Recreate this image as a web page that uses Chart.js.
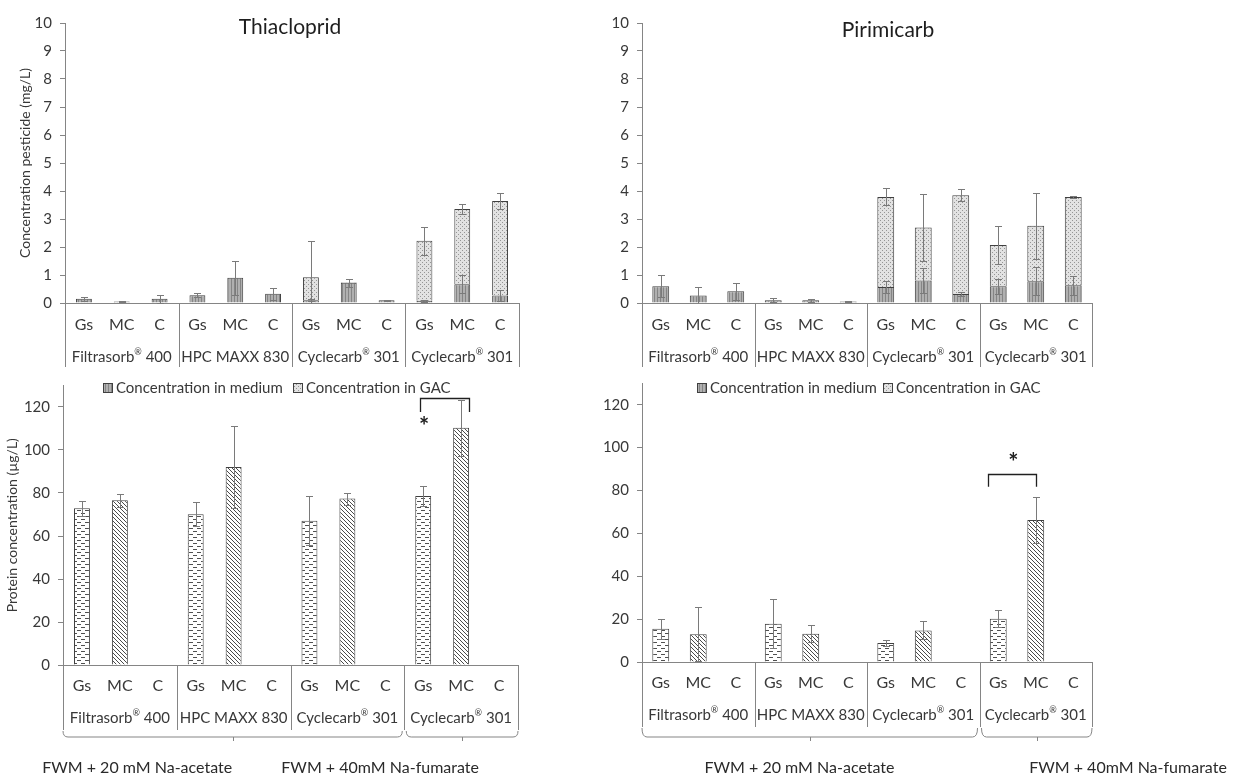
<!DOCTYPE html>
<html>
<head>
<meta charset="utf-8">
<script src="https://cdn.jsdelivr.net/npm/chart.js"></script>
<style>
  html, body { margin: 0; padding: 0; background: #fff; }
  #wrap { position: relative; width: 1233px; height: 778px; overflow: hidden; }
  #wrap canvas { position: absolute; }
</style>
</head>
<body>
<div id="wrap">
  <canvas id="c-thia"  width="600" height="400" style="left:0;top:0"></canvas>
  <canvas id="c-piri"  width="633" height="400" style="left:600px;top:0"></canvas>
  <canvas id="c-pthia" width="600" height="398" style="left:0;top:380px"></canvas>
  <canvas id="c-ppiri" width="633" height="398" style="left:600px;top:380px"></canvas>
</div>
<script>
/* ── data ─────────────────────────────────────────────── */
const subLabels   = ['Gs', 'MC', 'C', 'Gs', 'MC', 'C', 'Gs', 'MC', 'C', 'Gs', 'MC', 'C'];
const groupLabels = ['Filtrasorb® 400', 'HPC MAXX 830', 'Cyclecarb® 301', 'Cyclecarb® 301'];
const mediaLabels = ['FWM + 20 mM Na-acetate', 'FWM + 40mM Na-fumarate'];
const seriesNames = ['Concentration in medium', 'Concentration in GAC'];

// pesticide (mg/L), stacked medium + GAC, with sd
const thiaMedium    = [0.15, 0.05, 0.15, 0.28, 0.90, 0.33, 0.10, 0.72, 0.10, 0.08, 0.67, 0.27];
const thiaMediumErr = [0.08, 0.02, 0.15, 0.08, 0.60, 0.22, 0.03, 0.14, 0.02, 0.03, 0.33, 0.20];
const thiaGAC       = [0, 0, 0, 0, 0, 0, 0.82, 0.02, 0, 2.14, 2.69, 3.37];
const thiaGACErr    = [0, 0, 0, 0, 0, 0, 1.30, 0, 0, 0.50, 0.18, 0.30];

const piriMedium    = [0.60, 0.27, 0.42, 0.10, 0.10, 0.05, 0.57, 0.80, 0.32, 0.60, 0.78, 0.63];
const piriMediumErr = [0.40, 0.30, 0.30, 0.08, 0.05, 0.02, 0.20, 0.45, 0.08, 0.27, 0.50, 0.34];
const piriGAC       = [0, 0, 0, 0, 0, 0, 3.22, 1.90, 3.53, 1.47, 1.98, 3.16];
const piriGACErr    = [0, 0, 0, 0, 0, 0, 0.30, 1.20, 0.22, 0.68, 1.18, 0.03];

// protein concentration (µg/L), with sd
const protThia    = [72.9, 76.6, null, 70.1, 92.1, null, 67.1, 77.4, null, 78.6, 110.4, null];
const protThiaErr = [3.4, 3.0, 0, 5.5, 19.0, 0, 11.5, 2.8, 0, 4.7, 13.0, 0];
const protPiri    = [15.5, 13.0, null, 17.9, 13.2, null, 8.9, 14.7, null, 20.2, 66.2, null];
const protPiriErr = [4.7, 12.6, 0, 11.6, 3.9, 0, 1.5, 4.2, 0, 3.9, 10.9, 0];

const pestTicks = [0, 10, 1];      // min, max, step
const protTicks = [0, 130, 20];

/* ── patterns ─────────────────────────────────────────── */
function makePattern(w, h, draw) {
    const c = document.createElement('canvas');
    c.width = w; c.height = h;
    const g = c.getContext('2d');
    draw(g);
    return g.createPattern(c, 'repeat');
}
const medPat = makePattern(3, 3, g => {
    g.fillStyle = '#b0b0b0'; g.fillRect(0, 0, 3, 3);
    g.fillStyle = '#858585'; g.fillRect(0, 0, 1, 3);
});
const gacPat = makePattern(4, 4, g => {
    g.fillStyle = '#e2e2e2'; g.fillRect(0, 0, 4, 4);
    g.fillStyle = '#959595'; g.fillRect(0, 0, 1, 1); g.fillRect(2, 2, 1, 1);
});
const gsPat = makePattern(8, 6, g => {
    g.fillStyle = '#ffffff'; g.fillRect(0, 0, 8, 6);
    g.fillStyle = '#505050';
    g.fillRect(1, 1, 4, 1);
    g.fillRect(5, 4, 3, 1); g.fillRect(0, 4, 1, 1);
});
const mcPat = makePattern(4, 4, g => {
    g.fillStyle = '#ffffff'; g.fillRect(0, 0, 4, 4);
    g.fillStyle = '#4a4a4a';
    for (let i = 0; i < 4; i++) g.fillRect(i, i, 1, 1);
});

const FONT = 'Lato, "Open Sans", sans-serif';
const TXT = '#383838';
const AX = '#858585';

/* text with a small raised ® */
function fillRich(ctx, s, cx, cy, size) {
    const parts = s.split('®');
    ctx.save();
    ctx.textAlign = 'left';
    const big = `${size}px ${FONT}`, small = `${Math.round(size * 0.62)}px ${FONT}`;
    ctx.font = big;
    const w0 = ctx.measureText(parts[0]).width;
    const w2 = parts.length > 1 ? ctx.measureText(parts[1]).width : 0;
    ctx.font = small;
    const w1 = parts.length > 1 ? ctx.measureText('®').width : 0;
    let x = cx - (w0 + w1 + w2) / 2;
    ctx.font = big;
    ctx.fillText(parts[0], x, cy);
    if (parts.length > 1) {
        x += w0;
        ctx.font = small;
        ctx.fillText('®', x, cy - size * 0.3);
        x += w1;
        ctx.font = big;
        ctx.fillText(parts[1], x, cy);
    }
    ctx.restore();
}

/* ── plugins ──────────────────────────────────────────── */
const errorBars = {
    id: 'errorBars',
    afterDatasetsDraw(ch) {
        const { ctx, scales: { y } } = ch;
        const y0 = y.getPixelForValue(0);
        ctx.save();
        ctx.strokeStyle = '#7a7a7a';
        ctx.lineWidth = 1;
        ch.data.datasets.forEach((ds, i) => {
            if (!ds.errors) return;
            ch.getDatasetMeta(i).data.forEach((bar, j) => {
                const v = ds.data[j], e = ds.errors[j];
                if (!v || !e) return;
                const dy = y0 - y.getPixelForValue(e);
                const x = Math.round(bar.x) + 0.5;
                const t = Math.round(bar.y - dy) + 0.5;
                const clipped = bar.y + dy > y0;
                const b = Math.round(Math.min(bar.y + dy, y0)) + 0.5;
                ctx.beginPath();
                ctx.moveTo(x, t); ctx.lineTo(x, b);
                ctx.moveTo(x - 3.5, t); ctx.lineTo(x + 3.5, t);
                if (!clipped) { ctx.moveTo(x - 3.5, b); ctx.lineTo(x + 3.5, b); }
                ctx.stroke();
            });
        });
        ctx.restore();
    }
};

// two-level category axis, drawn with the chart's own x scale
const catAxis = {
    id: 'catAxis',
    afterDraw(ch, args, o) {
        const { ctx, chartArea: a, scales: { x } } = ch;
        const per = subLabels.length / groupLabels.length;
        const half = (x.getPixelForValue(1) - x.getPixelForValue(0)) / 2;
        const edge = g => x.getPixelForValue(g * per) - half;
        const end = x.getPixelForValue(subLabels.length - 1) + half;
        ctx.save();
        ctx.strokeStyle = AX;
        ctx.lineWidth = 1;
        ctx.beginPath();
        for (let g = 0; g <= groupLabels.length; g++) {
            const px = Math.round(g === groupLabels.length ? end : edge(g)) + 0.5;
            ctx.moveTo(px, a.bottom); ctx.lineTo(px, a.bottom + o.boxH);
        }
        ctx.stroke();
        ctx.fillStyle = TXT;
        ctx.textAlign = 'center';
        ctx.textBaseline = 'middle';
        ctx.font = `16px ${FONT}`;
        subLabels.forEach((s, i) => ctx.fillText(s, x.getPixelForValue(i), a.bottom + o.subY));
        groupLabels.forEach((s, g) => {
            const cx = (x.getPixelForValue(g * per) + x.getPixelForValue(g * per + per - 1)) / 2;
            fillRich(ctx, s, cx, a.bottom + o.groupY, 15);
        });

        if (o.braces) {
            const yb = a.bottom + o.braceY, yt = a.bottom + o.boxH + 1;
            const spans = [[edge(0), edge(3) - 2], [edge(3) + 2, end]];
            ctx.beginPath();
            spans.forEach(([l, r]) => {
                const m = Math.round((l + r) / 2) + 0.5;
                ctx.moveTo(l, yt);
                ctx.quadraticCurveTo(l, yb, l + 5, yb);
                ctx.lineTo(r - 5, yb);
                ctx.quadraticCurveTo(r, yb, r, yt);
                ctx.moveTo(m, yb); ctx.lineTo(m, yb + 4);
            });
            ctx.stroke();
            ctx.font = `16px ${FONT}`;
            ctx.fillStyle = '#2a2a2a';
            mediaLabels.forEach((s, k) => {
                ctx.fillText(s, a.left + o.mediaX[k] * (a.right - a.left), o.mediaTextY);
            });
        }
        ctx.restore();
    }
};

const panelTitle = {
    id: 'panelTitle',
    afterDraw(ch, args, o) {
        if (!o.text) return;
        const { ctx, chartArea: a } = ch;
        ctx.save();
        ctx.font = `21px ${FONT}`;
        ctx.fillStyle = '#1e1e1e';
        ctx.textAlign = 'center';
        ctx.textBaseline = 'middle';
        ctx.fillText(o.text, (a.left + a.right) / 2 + o.dx, o.y);
        ctx.restore();
    }
};

const sideLegend = {
    id: 'sideLegend',
    afterDraw(ch, args, o) {
        if (!o.xs) return;
        const { ctx, chartArea: a } = ch;
        ctx.save();
        ctx.font = `15px ${FONT}`;
        ctx.textBaseline = 'middle';
        ch.data.datasets.forEach((ds, i) => {
            const sx = a.left + o.xs[i];
            ctx.fillStyle = ds.backgroundColor;
            ctx.fillRect(sx, o.y - 5, 10, 10);
            ctx.strokeStyle = '#404040';
            ctx.strokeRect(sx + 0.5, o.y - 4.5, 9, 9);
            ctx.fillStyle = TXT;
            ctx.fillText(ds.label, sx + 13, o.y);
        });
        ctx.restore();
    }
};

const signif = {
    id: 'signif',
    afterDraw(ch, args, o) {
        if (o.from === undefined) return;
        const { ctx, scales: { x, y } } = ch;
        const l = Math.round(x.getPixelForValue(o.from) + o.dl) + 0.5;
        const r = Math.round(x.getPixelForValue(o.to) + o.dr) + 0.5;
        const yt = Math.round(y.getPixelForValue(o.y)) + 0.5;
        const yl = y.getPixelForValue(o.leg);
        ctx.save();
        ctx.strokeStyle = '#202020';
        ctx.lineWidth = 1.3;
        ctx.beginPath();
        ctx.moveTo(l, yl); ctx.lineTo(l, yt); ctx.lineTo(r, yt); ctx.lineTo(r, yl);
        ctx.stroke();
        ctx.font = `bold 24px ${FONT}`;
        ctx.fillStyle = '#202020';
        ctx.textAlign = 'center';
        ctx.textBaseline = 'middle';
        ctx.fillText('*', x.getPixelForValue(o.starAt) + o.starDx, y.getPixelForValue(o.starY) + 4);
        ctx.restore();
    }
};

/* ── chart builder ────────────────────────────────────── */
function build(id, p) {
    const [mn, mx, st] = p.ticks;
    return new Chart(document.getElementById(id), {
        type: 'bar',
        data: { labels: subLabels, datasets: p.datasets },
        options: {
            responsive: false,
            animation: false,
            devicePixelRatio: 1,
            layout: { padding: { top: p.top, right: p.right, left: 0, bottom: 0 } },
            datasets: { bar: { barPercentage: p.barPct, categoryPercentage: 1 } },
            plugins: {
                legend: { display: false },
                tooltip: { enabled: false },
                catAxis: p.cat,
                panelTitle: p.title || {},
                sideLegend: p.legend || {},
                signif: p.signif || {}
            },
            scales: {
                x: {
                    stacked: true,
                    grid: { display: false },
                    border: { display: true, color: AX },
                    ticks: { display: false },
                    afterFit(s) { s.height = p.xH; s.paddingLeft = 0; s.paddingRight = 0; }
                },
                y: {
                    stacked: true,
                    min: mn, max: mx,
                    ticks: {
                        stepSize: st, includeBounds: false,
                        color: TXT, padding: 8,
                        font: { family: FONT, size: 15 }
                    },
                    grid: { drawOnChartArea: false, tickLength: 5, color: AX },
                    border: { color: AX },
                    title: p.yTitle ? {
                        display: true, text: p.yTitle, color: TXT,
                        font: { family: FONT, size: 14 },
                        padding: { top: p.yTitlePad, bottom: 0 }
                    } : { display: false },
                    afterFit(s) { s.width = p.yW; s.paddingTop = 0; s.paddingBottom = 0; }
                }
            }
        },
        plugins: [errorBars, catAxis, panelTitle, sideLegend, signif]
    });
}

function pestSets(med, medErr, gac, gacErr) {
    return [
        { label: seriesNames[0], data: med, errors: medErr, backgroundColor: medPat, borderColor: '#404040', borderWidth: 1 },
        { label: seriesNames[1], data: gac, errors: gacErr, backgroundColor: gacPat, borderColor: '#404040', borderWidth: 1 }
    ];
}
function protSet(vals, errs) {
    return [{
        label: 'Protein', data: vals, errors: errs,
        backgroundColor: subLabels.map(s => s === 'Gs' ? gsPat : s === 'MC' ? mcPat : 'rgba(0,0,0,0)'),
        borderColor: '#404040', borderWidth: 1
    }];
}

build('c-thia', {
    datasets: pestSets(thiaMedium, thiaMediumErr, thiaGAC, thiaGACErr),
    ticks: pestTicks, top: 23, right: 81, yW: 65, xH: 97, barPct: 0.42,
    yTitle: 'Concentration pesticide (mg/L)', yTitlePad: 17,
    cat: { boxH: 64, subY: 22, groupY: 54 },
    title: { text: 'Thiacloprid', dx: -2, y: 27 },
    legend: { xs: [38, 228], y: 388 }
});
build('c-piri', {
    datasets: pestSets(piriMedium, piriMediumErr, piriGAC, piriGACErr),
    ticks: pestTicks, top: 23, right: 141, yW: 42, xH: 97, barPct: 0.45,
    cat: { boxH: 64, subY: 22, groupY: 54 },
    title: { text: 'Pirimicarb', dx: 21, y: 30 },
    legend: { xs: [55, 241], y: 388 }
});
build('c-pthia', {
    datasets: protSet(protThia, protThiaErr),
    ticks: protTicks, top: 5.5, right: 82, yW: 63, xH: 113, barPct: 0.42,
    yTitle: 'Protein concentration (µg/L)', yTitlePad: 4,
    cat: { boxH: 65, subY: 21, groupY: 53, braces: true, braceY: 72, mediaX: [0.163, 0.697], mediaTextY: 388 },
    signif: { from: 9, to: 10, dl: -3, dr: 8, y: 124.2, leg: 117.7, starAt: 9, starDx: 1, starY: 112.6 }
});
build('c-ppiri', {
    datasets: protSet(protPiri, protPiriErr),
    ticks: protTicks, top: 3.3, right: 141, yW: 42, xH: 116, barPct: 0.45,
    cat: { boxH: 65, subY: 21, groupY: 53, braces: true, braceY: 75, mediaX: [0.35, 1.08], mediaTextY: 388 },
    signif: { from: 9, to: 10, dl: -10, dr: 0, y: 87.8, leg: 81.7, starAt: 9, starDx: 15, starY: 94.5 }
});
</script>
</body>
</html>
